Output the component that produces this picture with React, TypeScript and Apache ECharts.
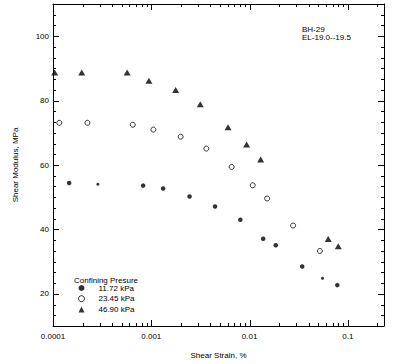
import React, { useEffect, useRef } from "react";
import * as echarts from "echarts";

// Shear strain (%) and shear modulus (MPa) for each confining pressure
const strain1172 = [1.46e-4, 2.86e-4, 8.26e-4, 1.32e-3, 2.45e-3, 4.45e-3, 8.05e-3, 0.01374, 0.01846, 0.0343, 0.0552, 0.078];
const modulus1172 = [54.4, 54.0, 53.6, 52.7, 50.2, 47.1, 43.0, 37.1, 35.1, 28.5, 24.8, 22.7];
const small1172 = [1, 10]; // indices drawn with a smaller marker

const strain2345 = [1.16e-4, 2.24e-4, 6.48e-4, 1.05e-3, 1.99e-3, 3.63e-3, 6.57e-3, 0.01076, 0.01507, 0.0277, 0.0519];
const modulus2345 = [73.1, 73.1, 72.5, 71.0, 68.8, 65.1, 59.4, 53.7, 49.6, 41.2, 33.3];

const strain4690 = [1.04e-4, 1.96e-4, 5.68e-4, 9.46e-4, 1.77e-3, 3.15e-3, 6.04e-3, 9.33e-3, 0.01297, 0.0631, 0.0798];
const modulus4690 = [88.7, 88.7, 88.7, 86.2, 83.3, 78.9, 71.7, 66.4, 61.7, 37.0, 34.8];

const seriesNames = ["11.72 kPa", "23.45 kPa", "46.90 kPa"];

const xMin = 1e-4;
const xMax = 0.233;
const xMajor = [1e-4, 1e-3, 1e-2, 1e-1];
const xTickLabels = ["0.0001", "0.001", "0.01", "0.1"];
const xMinorMultipliers = [2, 3, 4, 5, 6, 7, 8, 9];

const yMin = 10;
const yMax = 110;
const yMajor = [20, 40, 60, 80, 100];
const yMinorStep = 20 / 6;

const MAJOR_LEN = 6;
const MINOR_LEN = 3;
const FONT = "'Liberation Sans', Arial, sans-serif";

type Side = "bottom" | "top" | "left" | "right";

export default function App() {
  const ref = useRef<HTMLDivElement>(null);

  useEffect(() => {
    if (!ref.current) return;
    const chart = echarts.init(ref.current, null, { renderer: "svg" });

    const xTicks: number[][] = [];
    xMajor.forEach((d) => {
      xTicks.push([d, yMin, MAJOR_LEN]);
      xMinorMultipliers.forEach((m) => {
        const v = d * m;
        if (v <= xMax) xTicks.push([v, yMin, MINOR_LEN]);
      });
    });
    const yTicks: number[][] = [];
    for (let i = 0; i <= 30; i++) {
      const v = Math.round((yMin + i * yMinorStep) * 1000) / 1000;
      if (v > yMax + 1e-6) break;
      const isMajor = yMajor.some((m) => Math.abs(m - v) < 1e-3);
      yTicks.push([xMin, v, isMajor ? MAJOR_LEN : MINOR_LEN]);
    }

    const black = { color: "#000", width: 1 };
    const labelFmt = (v: number) => {
      const idx = Math.round(Math.log10(v)) + 4;
      return xTickLabels[idx] ?? "";
    };
    const nameStyle = { fontSize: 8, color: "#000", fontFamily: FONT };

    // ticks drawn as filled 1px-wide rects, positioned through the axes' scales
    const tickSeries = (side: Side) => ({
      type: "custom",
      data: side === "bottom" || side === "top" ? xTicks : yTicks,
      renderItem: (params: any, api: any) => {
        const cs = params.coordSys;
        const p = api.coord([api.value(0), api.value(1)]);
        const len = api.value(2);
        let shape;
        if (side === "bottom" || side === "top") {
          const x = Math.round(p[0]);
          const y = side === "bottom" ? cs.y + cs.height - len : cs.y;
          shape = { x, y, width: 1, height: len };
        } else {
          const y = Math.round(p[1]);
          const x = side === "left" ? cs.x : cs.x + cs.width - len;
          shape = { x, y, width: len, height: 1 };
        }
        return { type: "rect", shape, style: { fill: "#000" } };
      },
    });

    chart.setOption({
      animation: false,
      backgroundColor: "#fff",
      grid: { left: 53, top: 4, width: 331, height: 323 },
      xAxis: [
        {
          type: "log",
          logBase: 10,
          min: xMin,
          max: xMax,
          position: "bottom",
          axisLine: { show: true, onZero: false, lineStyle: black },
          axisTick: { show: false },
          axisLabel: {
            formatter: labelFmt,
            margin: 6,
            fontSize: 8,
            color: "#000",
            fontFamily: FONT,
            showMaxLabel: false,
          },
          splitLine: { show: false },
          name: "Shear Strain, %",
          nameLocation: "middle",
          nameGap: 25,
          nameTextStyle: nameStyle,
        },
        {
          type: "log",
          logBase: 10,
          min: xMin,
          max: xMax,
          position: "top",
          axisLine: { show: true, onZero: false, lineStyle: black },
          axisTick: { show: false },
          axisLabel: { show: false },
          splitLine: { show: false },
        },
      ],
      yAxis: [
        {
          type: "value",
          min: yMin,
          max: yMax,
          position: "left",
          axisLine: { show: true, onZero: false, lineStyle: black },
          axisTick: { show: false },
          axisLabel: { customValues: yMajor, margin: 4, fontSize: 8, color: "#000", fontFamily: FONT },
          splitLine: { show: false },
          name: "Shear Modulus, MPa",
          nameLocation: "middle",
          nameGap: 34,
          nameRotate: 90,
          nameTextStyle: nameStyle,
        },
        {
          type: "value",
          min: yMin,
          max: yMax,
          position: "right",
          axisLine: { show: true, onZero: false, lineStyle: black },
          axisTick: { show: false },
          axisLabel: { show: false },
          splitLine: { show: false },
        },
      ],
      legend: {
        orient: "vertical",
        left: 78,
        top: 283,
        padding: 0,
        itemGap: 0.7,
        itemWidth: 6,
        itemHeight: 6,
        textStyle: { fontSize: 8, color: "#000", fontFamily: FONT, lineHeight: 10, padding: [0, 0, 0, 9] },
        data: [
          { name: seriesNames[0], icon: "circle" },
          { name: seriesNames[1], icon: "circle", itemStyle: { color: "#fff", borderColor: "#000", borderWidth: 1 } },
          { name: seriesNames[2], icon: "triangle" },
        ],
      },
      graphic: [
        {
          type: "text",
          left: 74,
          top: 276,
          style: { text: "Confining Presure", fontSize: 8, fill: "#000", fontFamily: FONT },
        },
        {
          type: "text",
          left: 302,
          top: 25.5,
          style: { text: "BH-29\nEL-19.0--19.5", fontSize: 8, lineHeight: 8, fill: "#000", fontFamily: FONT },
        },
      ],
      series: [
        tickSeries("bottom"),
        tickSeries("left"),
        tickSeries("top"),
        tickSeries("right"),
        {
          name: seriesNames[0],
          type: "scatter",
          symbol: "circle",
          itemStyle: { color: "#000" },
          data: strain1172.map((s, i) => ({
            value: [s, modulus1172[i]],
            symbolSize: small1172.includes(i) ? 3 : 4.5,
          })),
        },
        {
          name: seriesNames[1],
          type: "scatter",
          symbol: "circle",
          symbolSize: 5,
          itemStyle: { color: "#fff", borderColor: "#000", borderWidth: 1 },
          data: strain2345.map((s, i) => [s, modulus2345[i]]),
        },
        {
          name: seriesNames[2],
          type: "scatter",
          symbol: "triangle",
          symbolSize: [7, 6],
          itemStyle: { color: "#000" },
          data: strain4690.map((s, i) => [s, modulus4690[i]]),
        },
      ],
    });

    return () => chart.dispose();
  }, []);

  return (
    <div
      ref={ref}
      style={{ position: "fixed", left: 0, top: 0, width: 398, height: 364, background: "#fff" }}
    />
  );
}
